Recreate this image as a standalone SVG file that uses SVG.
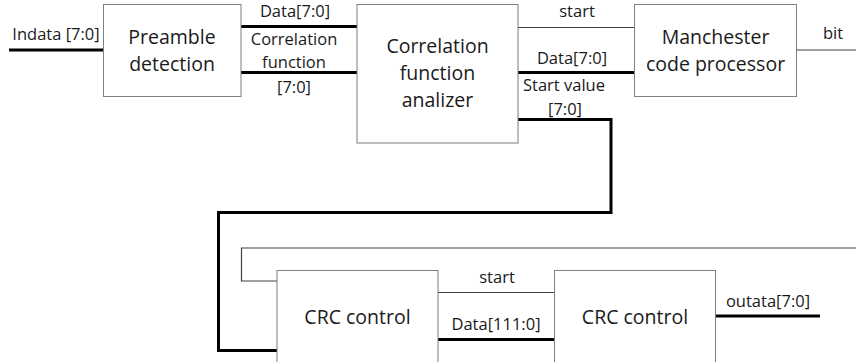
<svg xmlns="http://www.w3.org/2000/svg" width="856" height="362" viewBox="0 0 856 362">
  <style>
    .box { fill: #ffffff; stroke: #7f7f7f; stroke-width: 1; }
    .bus { fill: none; stroke: #000000; stroke-width: 3; }
    .sig { fill: none; stroke: #404040; stroke-width: 1.2; }
    text { font-family: "Open Sans", "Noto Sans", "Liberation Sans", sans-serif; fill: #1a1a1a; }
    .big { font-size: 19.5px; text-anchor: middle; }
    .lbl { font-size: 16.5px; text-anchor: middle; }
  </style>
  <rect width="856" height="362" fill="#ffffff"/>

  <g id="connectors">
    <!-- input bus -->
    <line class="bus" x1="9" y1="50" x2="103" y2="50"/>
    <!-- preamble -> analyzer -->
    <line class="bus" x1="241" y1="26.5" x2="357" y2="26.5"/>
    <line class="bus" x1="241" y1="72.5" x2="357" y2="72.5"/>
    <!-- analyzer -> manchester -->
    <line class="sig" x1="518" y1="27.5" x2="634" y2="27.5"/>
    <line class="bus" x1="518" y1="72.5" x2="634" y2="72.5"/>
    <!-- bit output -->
    <line class="sig" x1="797" y1="50" x2="856" y2="50"/>
    <!-- start value bus down to CRC -->
    <polyline class="bus" points="518,119.5 611,119.5 611,212.5 218.5,212.5 218.5,350.5 277,350.5"/>
    <!-- feedback loop into CRC -->
    <polyline class="sig" points="856,248 241.5,248 241.5,281 277,281"/>
    <!-- CRC -> CRC -->
    <line class="sig" x1="438" y1="292.5" x2="554" y2="292.5"/>
    <line class="bus" x1="438" y1="339.5" x2="554" y2="339.5"/>
    <!-- output bus -->
    <line class="bus" x1="716" y1="316" x2="820" y2="316"/>
  </g>

  <g id="preamble">
    <rect class="box" x="103.5" y="4.5" width="137.5" height="92"/>
    <text class="big" x="172" y="43.5">Preamble</text>
    <text class="big" x="172" y="70.5">detection</text>
  </g>

  <g id="analyzer">
    <rect class="box" x="357" y="4.5" width="161" height="138.5"/>
    <text class="big" x="437.5" y="52.5">Correlation</text>
    <text class="big" x="437.5" y="79.5">function</text>
    <text class="big" x="437.5" y="106.5">analizer</text>
  </g>

  <g id="manchester">
    <rect class="box" x="634.5" y="4.5" width="162" height="92"/>
    <text class="big" x="715.5" y="43.5">Manchester</text>
    <text class="big" x="715.5" y="70.5">code processor</text>
  </g>

  <g id="crc1">
    <rect class="box" x="277" y="270.5" width="161" height="100"/>
    <text class="big" x="357.5" y="323.5">CRC control</text>
  </g>

  <g id="crc2">
    <rect class="box" x="554.5" y="270.5" width="161" height="100"/>
    <text class="big" x="635" y="323.5">CRC control</text>
  </g>

  <g id="labels">
    <text class="lbl" x="56" y="40">Indata [7:0]</text>
    <text class="lbl" x="295" y="17">Data[7:0]</text>
    <text class="lbl" x="294" y="45">Correlation</text>
    <text class="lbl" x="294" y="68">function</text>
    <text class="lbl" x="294" y="93">[7:0]</text>
    <text class="lbl" x="577" y="16.5">start</text>
    <text class="lbl" x="572" y="64">Data[7:0]</text>
    <text class="lbl" x="564" y="91">Start value</text>
    <text class="lbl" x="565" y="115">[7:0]</text>
    <text class="lbl" x="833" y="39">bit</text>
    <text class="lbl" x="497" y="283">start</text>
    <text class="lbl" x="496" y="330">Data[111:0]</text>
    <text class="lbl" x="768" y="307">outata[7:0]</text>
  </g>
</svg>
